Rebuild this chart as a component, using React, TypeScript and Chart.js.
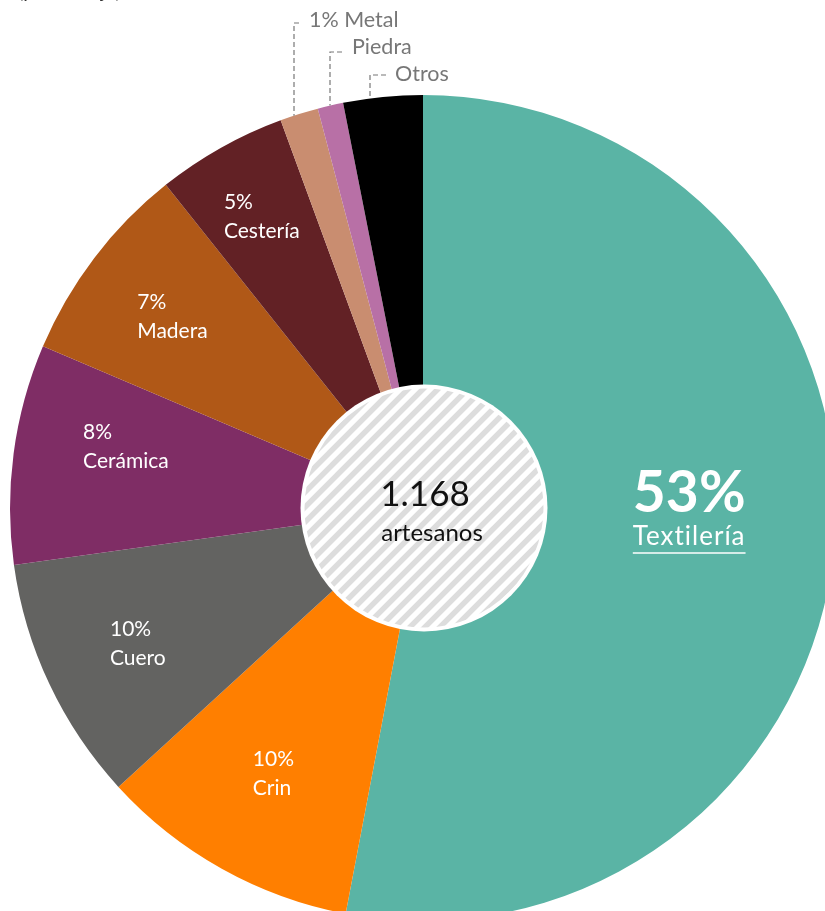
import React, { useEffect, useRef } from "react";
import { Chart, registerables } from "chart.js";

Chart.register(...registerables);

const categories = ["Textilería", "Crin", "Cuero", "Cerámica", "Madera", "Cestería", "Metal", "Piedra", "Otros"];
const shares = [53, 10.2, 9.6, 8.6, 7.9, 5.1, 1.5, 1.0, 3.1];
const pctLabels = ["53%", "10%", "10%", "8%", "7%", "5%", "1%", "", ""];
const colors = ["#5ab4a5", "#ff7f00", "#636361", "#7f2d65", "#b05817", "#622125", "#c98d70", "#b870a6", "#000000"];
const totalLabel = "1.168";
const totalUnit = "artesanos";
const subtitle = "(porcentaje)";

// label anchors inside slices, relative to pie centre in units of outer radius
const insideLabelPos: Record<string, [number, number]> = {
  "Crin": [-0.412, 0.608],
  "Cuero": [-0.758, 0.293],
  "Cerámica": [-0.823, -0.184],
  "Madera": [-0.692, -0.499],
  "Cestería": [-0.482, -0.741],
};
// outside small-slice labels: [textX, baseline, leaderX, leaderTop, dashEndX]
const outsideLabelPos: Record<string, [number, number, number, number, number]> = {
  "Metal": [309, 27, 294, 23, 299],
  "Piedra": [352, 54, 330, 52, 342],
  "Otros": [395, 81, 370, 75, 386],
};

const FONT = "Lato, 'Open Sans', sans-serif";

const overlayPlugin = {
  id: "overlay",
  afterDraw(chart: any) {
    const ctx: any = chart.ctx;
    const meta = chart.getDatasetMeta(0);
    const a0 = meta.data[0];
    const cx = a0.x, cy = a0.y, R = a0.outerRadius;
    ctx.save();

    // subtitle mostly out of view
    ctx.fillStyle = "#333";
    ctx.font = `20px ${FONT}`;
    ctx.textAlign = "left";
    ctx.textBaseline = "alphabetic";
    ctx.fillText(subtitle, 18, -2);

    // inside labels
    ctx.fillStyle = "#ffffff";
    categories.forEach((c, i) => {
      const p = insideLabelPos[c];
      if (!p) return;
      const x = cx + p[0] * R;
      const y = cy + p[1] * R;
      ctx.font = `21px ${FONT}`;
      ctx.textBaseline = "middle";
      ctx.fillText(pctLabels[i], x, y);
      ctx.fillText(c, x, y + 29);
    });

    // big label
    const tx = cx + 0.508 * R;
    const ty = cy - 0.034 * R;
    ctx.font = `bold 57px ${FONT}`;
    ctx.textBaseline = "middle";
    ctx.fillText(pctLabels[0], tx, ty);
    ctx.font = `26px ${FONT}`;
    ctx.letterSpacing = "1px";
    ctx.fillText(categories[0], tx, ty + 43);
    const w = ctx.measureText(categories[0]).width;
    ctx.letterSpacing = "0px";
    ctx.strokeStyle = "#ffffff";
    ctx.lineWidth = 1.5;
    ctx.beginPath();
    ctx.moveTo(tx, ty + 59);
    ctx.lineTo(tx + w, ty + 59);
    ctx.stroke();

    // outside labels with dashed leaders
    categories.forEach((c, i) => {
      const p = outsideLabelPos[c];
      if (!p) return;
      const [txo, base, lx, ltop, dashEnd] = p;
      const ly = cy - Math.sqrt(R * R - (lx - cx) * (lx - cx));
      ctx.strokeStyle = "#777";
      ctx.lineWidth = 1.2;
      ctx.setLineDash([5, 3]);
      ctx.beginPath();
      ctx.moveTo(dashEnd, ltop);
      ctx.lineTo(lx, ltop);
      ctx.lineTo(lx, ly);
      ctx.stroke();
      ctx.setLineDash([]);
      ctx.fillStyle = "#777";
      ctx.font = `21.5px ${FONT}`;
      ctx.textBaseline = "alphabetic";
      const t = pctLabels[i] ? `${pctLabels[i]} ${c}` : c;
      ctx.fillText(t, txo, base);
    });

    // centre hatched circle
    const r = R * 0.299;
    ctx.beginPath();
    ctx.arc(cx + 1, cy, r, 0, Math.PI * 2);
    ctx.fillStyle = "#ffffff";
    ctx.fill();
    ctx.save();
    ctx.beginPath();
    ctx.arc(cx + 1, cy, r - 4, 0, Math.PI * 2);
    ctx.clip();
    ctx.strokeStyle = "#dddddd";
    ctx.lineWidth = 5.5;
    for (let k = -2 * r; k < 4 * r; k += 15) {
      ctx.beginPath();
      ctx.moveTo(cx - r + k - 2 * r, cy + r);
      ctx.lineTo(cx - r + k, cy - r);
      ctx.stroke();
    }
    ctx.restore();

    ctx.fillStyle = "#111111";
    ctx.textAlign = "center";
    ctx.textBaseline = "middle";
    ctx.font = `35px ${FONT}`;
    ctx.fillText(totalLabel, cx + 2, cy - 13);
    ctx.font = `24px ${FONT}`;
    ctx.fillText(totalUnit, cx + 9, cy + 25);
    ctx.restore();
  },
};

export default function App() {
  const ref = useRef<HTMLCanvasElement>(null);
  useEffect(() => {
    if (!ref.current) return;
    const chart = new Chart(ref.current, {
      type: "pie",
      data: {
        labels: categories,
        datasets: [
          {
            data: shares,
            backgroundColor: colors,
            borderWidth: 0,
          },
        ],
      },
      options: {
        responsive: false,
        maintainAspectRatio: false,
        animation: false,
        layout: { padding: 10 },
        plugins: { legend: { display: false }, tooltip: { enabled: false } },
      },
      plugins: [overlayPlugin],
    });
    return () => chart.destroy();
  }, []);
  return (
    <div style={{ position: "fixed", left: 0, top: 0, width: 825, height: 911, overflow: "hidden", background: "#fff" }}>
      <canvas ref={ref} width={846} height={1016} style={{ position: "absolute", left: 0, top: 0, width: 846, height: 1016 }} />
    </div>
  );
}
